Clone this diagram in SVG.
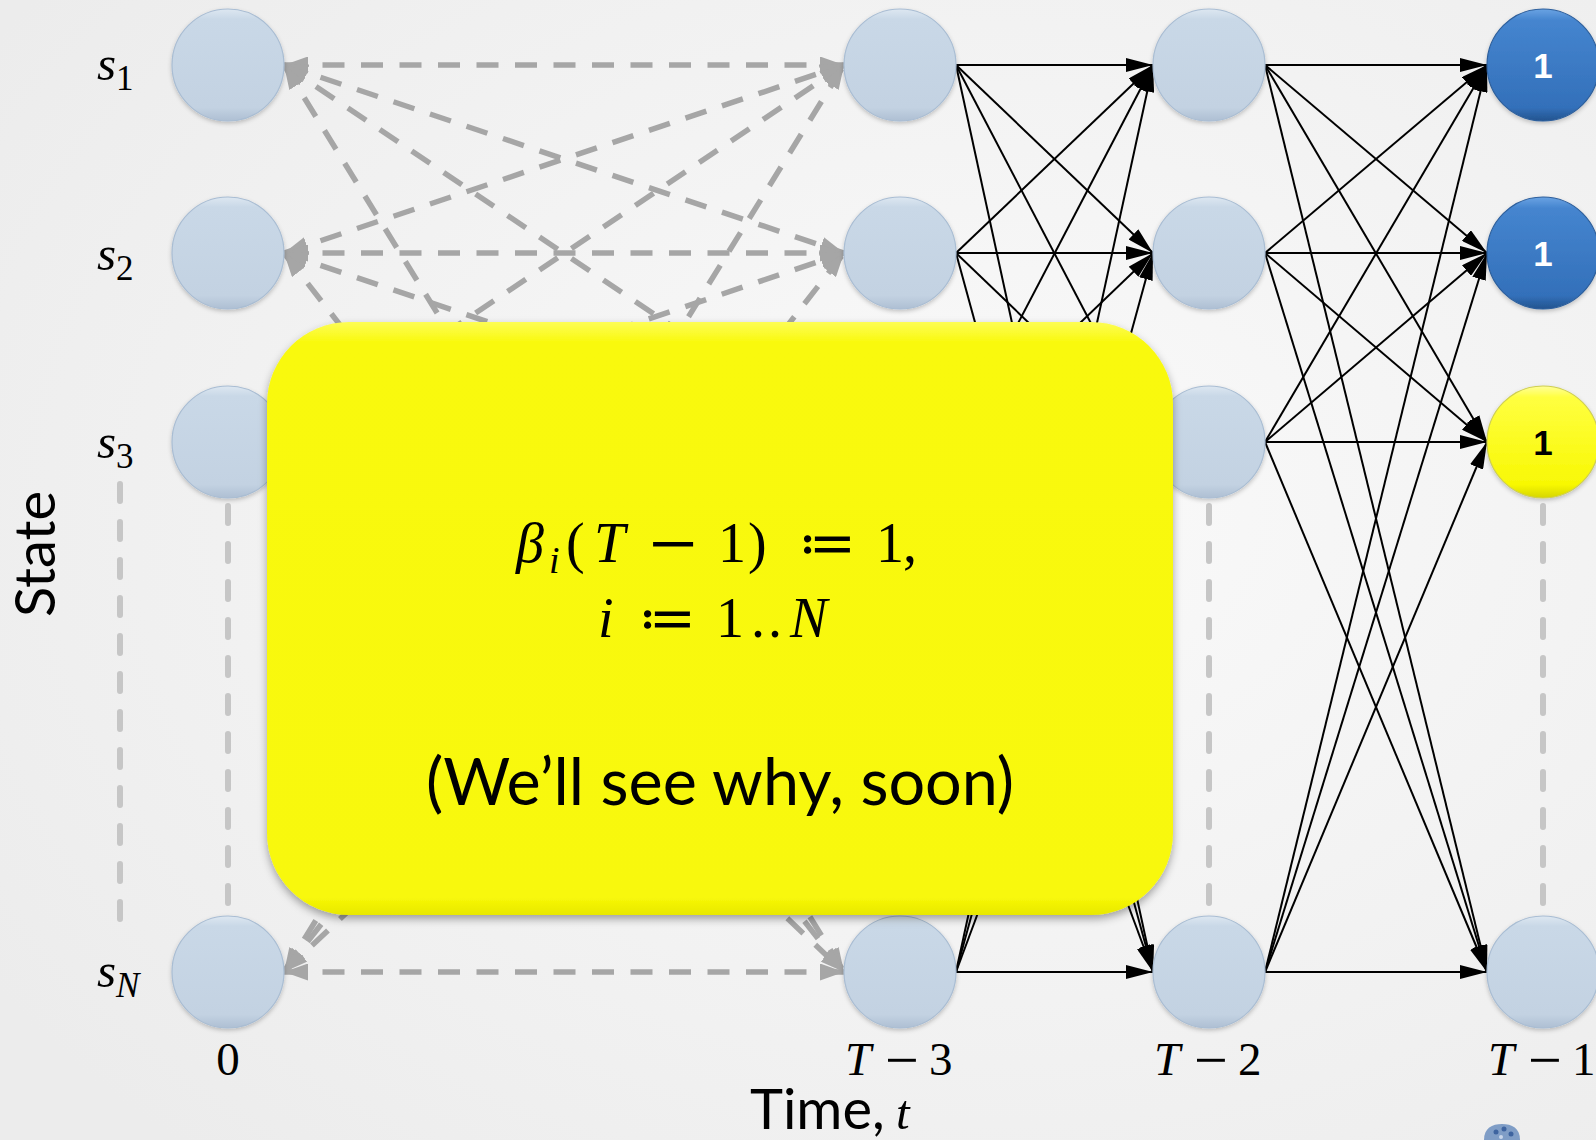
<svg xmlns="http://www.w3.org/2000/svg" width="1596" height="1140" viewBox="0 0 1596 1140">
<defs>
<radialGradient id="bg" cx="0.62" cy="0.45" r="0.75">
<stop offset="0" stop-color="#fafafa"/><stop offset="1" stop-color="#ececec"/>
</radialGradient>
<linearGradient id="nodeG" x1="0" y1="0" x2="0" y2="1">
<stop offset="0" stop-color="#dde7f1"/><stop offset="0.09" stop-color="#c9d8e7"/><stop offset="0.88" stop-color="#c3d2e2"/><stop offset="1" stop-color="#aebfd3"/>
</linearGradient>
<linearGradient id="blueG" x1="0" y1="0" x2="0" y2="1">
<stop offset="0" stop-color="#6aa3e3"/><stop offset="0.1" stop-color="#4585cf"/><stop offset="0.88" stop-color="#3370ba"/><stop offset="1" stop-color="#23548f"/>
</linearGradient>
<linearGradient id="yelG" x1="0" y1="0" x2="0" y2="1">
<stop offset="0" stop-color="#ffff9a"/><stop offset="0.1" stop-color="#ffff40"/><stop offset="0.88" stop-color="#f8f804"/><stop offset="1" stop-color="#d6d600"/>
</linearGradient>
<linearGradient id="boxG" x1="0" y1="0" x2="0" y2="1">
<stop offset="0" stop-color="#fdfd55"/><stop offset="0.035" stop-color="#f9f90c"/><stop offset="0.97" stop-color="#f8f808"/><stop offset="1" stop-color="#e8e800"/>
</linearGradient>
<filter id="sh" x="-20%" y="-20%" width="140%" height="150%">
<feDropShadow dx="0" dy="2" stdDeviation="2" flood-color="#000" flood-opacity="0.22"/>
</filter>
<filter id="boxsh" x="-10%" y="-10%" width="120%" height="125%">
<feDropShadow dx="0" dy="4" stdDeviation="4" flood-color="#000" flood-opacity="0.35"/>
</filter>
<marker id="ga" viewBox="0 0 24 17" refX="24" refY="8.5" markerWidth="24" markerHeight="17" markerUnits="userSpaceOnUse" orient="auto-start-reverse">
<path d="M0,0 L24,8.5 L0,17 z" fill="#a6a6a6"/>
</marker>
<marker id="ba" viewBox="0 0 27 14" refX="27" refY="7" markerWidth="27" markerHeight="14" markerUnits="userSpaceOnUse" orient="auto">
<path d="M0,0 L27,7 L0,14 z" fill="#000"/>
</marker>
</defs>
<style>
.node{fill:url(#nodeG);stroke:#a9bdd3;stroke-width:1.2;filter:url(#sh)}
.blue{fill:url(#blueG);stroke:#2d5f9c;stroke-width:1.2;filter:url(#sh)}
.yel{fill:url(#yelG);stroke:#cfcf50;stroke-width:1.2;filter:url(#sh)}
.gd{stroke:#a6a6a6;stroke-width:5.5;stroke-dasharray:22 16.5;fill:none;marker-start:url(#ga);marker-end:url(#ga)}
.bk{stroke:#000;stroke-width:2;fill:none;marker-end:url(#ba)}
.vd{stroke:#c6c6c6;stroke-width:6;stroke-dasharray:17 21;stroke-linecap:round;fill:none}
.math{font-family:"Liberation Serif","DejaVu Serif","DejaVu Sans",serif;font-size:49px;fill:#000}
.tl{font-size:47px}
.bm{font-size:56px}
.it{font-style:italic}
.sans{font-family:Lato,"Liberation Sans",sans-serif;fill:#000}
.num{font-family:"Liberation Sans",Arial,sans-serif;font-weight:bold;font-size:35px;text-anchor:middle}
</style>
<rect width="1596" height="1140" fill="url(#bg)"/>

<g id="guides">
<line class="vd" x1="120" y1="484" x2="120" y2="935"/>
<line class="vd" x1="228" y1="506" x2="228" y2="912"/>
<line class="vd" x1="900" y1="506" x2="900" y2="912"/>
<line class="vd" x1="1209" y1="506" x2="1209" y2="912"/>
<line class="vd" x1="1543" y1="506" x2="1543" y2="912"/>
</g>

<g id="connectors">
<line class="gd" x1="284" y1="65" x2="844" y2="65"/>
<line class="gd" x1="284" y1="65" x2="844" y2="253"/>
<line class="gd" x1="284" y1="65" x2="844" y2="442"/>
<line class="gd" x1="284" y1="65" x2="844" y2="972"/>
<line class="gd" x1="284" y1="253" x2="844" y2="65"/>
<line class="gd" x1="284" y1="253" x2="844" y2="253"/>
<line class="gd" x1="284" y1="253" x2="844" y2="442"/>
<line class="gd" x1="284" y1="253" x2="844" y2="972"/>
<line class="gd" x1="284" y1="442" x2="844" y2="65"/>
<line class="gd" x1="284" y1="442" x2="844" y2="253"/>
<line class="gd" x1="284" y1="442" x2="844" y2="442"/>
<line class="gd" x1="284" y1="442" x2="844" y2="972"/>
<line class="gd" x1="284" y1="972" x2="844" y2="65"/>
<line class="gd" x1="284" y1="972" x2="844" y2="253"/>
<line class="gd" x1="284" y1="972" x2="844" y2="442"/>
<line class="gd" x1="284" y1="972" x2="844" y2="972"/>

<line class="bk" x1="956" y1="65" x2="1153" y2="65"/>
<line class="bk" x1="956" y1="65" x2="1153" y2="253"/>
<line class="bk" x1="956" y1="65" x2="1153" y2="442"/>
<line class="bk" x1="956" y1="65" x2="1153" y2="972"/>
<line class="bk" x1="956" y1="253" x2="1153" y2="65"/>
<line class="bk" x1="956" y1="253" x2="1153" y2="253"/>
<line class="bk" x1="956" y1="253" x2="1153" y2="442"/>
<line class="bk" x1="956" y1="253" x2="1153" y2="972"/>
<line class="bk" x1="956" y1="442" x2="1153" y2="65"/>
<line class="bk" x1="956" y1="442" x2="1153" y2="253"/>
<line class="bk" x1="956" y1="442" x2="1153" y2="442"/>
<line class="bk" x1="956" y1="442" x2="1153" y2="972"/>
<line class="bk" x1="956" y1="972" x2="1153" y2="65"/>
<line class="bk" x1="956" y1="972" x2="1153" y2="253"/>
<line class="bk" x1="956" y1="972" x2="1153" y2="442"/>
<line class="bk" x1="956" y1="972" x2="1153" y2="972"/>

<line class="bk" x1="1265" y1="65" x2="1487" y2="65"/>
<line class="bk" x1="1265" y1="65" x2="1487" y2="253"/>
<line class="bk" x1="1265" y1="65" x2="1487" y2="442"/>
<line class="bk" x1="1265" y1="65" x2="1487" y2="972"/>
<line class="bk" x1="1265" y1="253" x2="1487" y2="65"/>
<line class="bk" x1="1265" y1="253" x2="1487" y2="253"/>
<line class="bk" x1="1265" y1="253" x2="1487" y2="442"/>
<line class="bk" x1="1265" y1="253" x2="1487" y2="972"/>
<line class="bk" x1="1265" y1="442" x2="1487" y2="65"/>
<line class="bk" x1="1265" y1="442" x2="1487" y2="253"/>
<line class="bk" x1="1265" y1="442" x2="1487" y2="442"/>
<line class="bk" x1="1265" y1="442" x2="1487" y2="972"/>
<line class="bk" x1="1265" y1="972" x2="1487" y2="65"/>
<line class="bk" x1="1265" y1="972" x2="1487" y2="253"/>
<line class="bk" x1="1265" y1="972" x2="1487" y2="442"/>
<line class="bk" x1="1265" y1="972" x2="1487" y2="972"/>
</g>

<g id="n-0-1"><circle class="node" cx="228" cy="65" r="56"/></g>
<g id="n-0-2"><circle class="node" cx="228" cy="253" r="56"/></g>
<g id="n-0-3"><circle class="node" cx="228" cy="442" r="56"/></g>
<g id="n-0-N"><circle class="node" cx="228" cy="972" r="56"/></g>
<g id="n-T3-1"><circle class="node" cx="900" cy="65" r="56"/></g>
<g id="n-T3-2"><circle class="node" cx="900" cy="253" r="56"/></g>
<g id="n-T3-3"><circle class="node" cx="900" cy="442" r="56"/></g>
<g id="n-T3-N"><circle class="node" cx="900" cy="972" r="56"/></g>
<g id="n-T2-1"><circle class="node" cx="1209" cy="65" r="56"/></g>
<g id="n-T2-2"><circle class="node" cx="1209" cy="253" r="56"/></g>
<g id="n-T2-3"><circle class="node" cx="1209" cy="442" r="56"/></g>
<g id="n-T2-N"><circle class="node" cx="1209" cy="972" r="56"/></g>
<g id="n-T1-1"><circle class="blue" cx="1543" cy="65" r="56"/><text class="num" x="1543" y="78" fill="#fff">1</text></g>
<g id="n-T1-2"><circle class="blue" cx="1543" cy="253" r="56"/><text class="num" x="1543" y="266" fill="#fff">1</text></g>
<g id="n-T1-3"><circle class="yel" cx="1543" cy="442" r="56"/><text class="num" x="1543" y="455" fill="#000">1</text></g>
<g id="n-T1-N"><circle class="node" cx="1543" cy="972" r="56"/></g>

<g id="state-labels">
<text class="math" x="97" y="80"><tspan class="it">s</tspan><tspan font-size="35" dy="10">1</tspan></text>
<text class="math" x="97" y="270"><tspan class="it">s</tspan><tspan font-size="35" dy="10">2</tspan></text>
<text class="math" x="97" y="458"><tspan class="it">s</tspan><tspan font-size="35" dy="10">3</tspan></text>
<text class="math" x="97" y="987"><tspan class="it">s</tspan><tspan class="it" font-size="35" dy="10">N</tspan></text>
</g>

<g id="time-labels">
<text class="math tl" x="228" y="1075" text-anchor="middle">0</text>
<text class="math tl" y="1075"><tspan class="it" x="845">T</tspan><tspan x="885" y="1080" font-size="60">−</tspan><tspan x="929" y="1075">3</tspan></text>
<text class="math tl" y="1075"><tspan class="it" x="1154">T</tspan><tspan x="1194" y="1080" font-size="60">−</tspan><tspan x="1238" y="1075">2</tspan></text>
<text class="math tl" y="1075"><tspan class="it" x="1488">T</tspan><tspan x="1528" y="1080" font-size="60">−</tspan><tspan x="1572" y="1075">1</tspan></text>
</g>

<g id="axis-labels">
<text class="sans" font-size="56" x="750" y="1129">Time,<tspan class="math it" x="896" font-size="54">t</tspan></text>
<text class="sans" font-size="56" transform="translate(55 554) rotate(-90)" text-anchor="middle">State</text>
</g>

<g id="note">
<rect x="267" y="322" width="906" height="593" rx="82" ry="82" fill="url(#boxG)" filter="url(#boxsh)"/>
<text class="math bm" y="562"><tspan class="it" x="516">β</tspan><tspan class="it" x="549" y="573" font-size="38">i</tspan><tspan x="566" y="562">(</tspan><tspan class="it" x="594">T</tspan><tspan x="649" y="573" font-size="86">−</tspan><tspan x="718" y="562">1</tspan><tspan x="748">)</tspan><tspan x="798">≔</tspan><tspan x="876">1</tspan><tspan x="903">,</tspan></text>
<text class="math bm" y="637"><tspan class="it" x="598">i</tspan><tspan x="638">≔</tspan><tspan x="716">1</tspan><tspan x="751">.</tspan><tspan x="768">.</tspan><tspan class="it" x="790">N</tspan></text>
<text class="sans" font-size="66" x="720" y="805" text-anchor="middle" textLength="588" lengthAdjust="spacingAndGlyphs">(We’ll see why, soon)</text>
</g>

<g id="logo">
<path d="M1484,1140 C1484,1128 1492,1124 1502,1124 C1512,1124 1520,1128 1520,1140 Z" fill="#7f9dc6"/>
<circle cx="1496" cy="1132" r="2.5" fill="#3e64a0"/><circle cx="1504" cy="1129" r="2.5" fill="#3e64a0"/><circle cx="1511" cy="1134" r="2.5" fill="#3e64a0"/><circle cx="1501" cy="1137" r="2" fill="#c9d6ea"/>
</g>
</svg>
